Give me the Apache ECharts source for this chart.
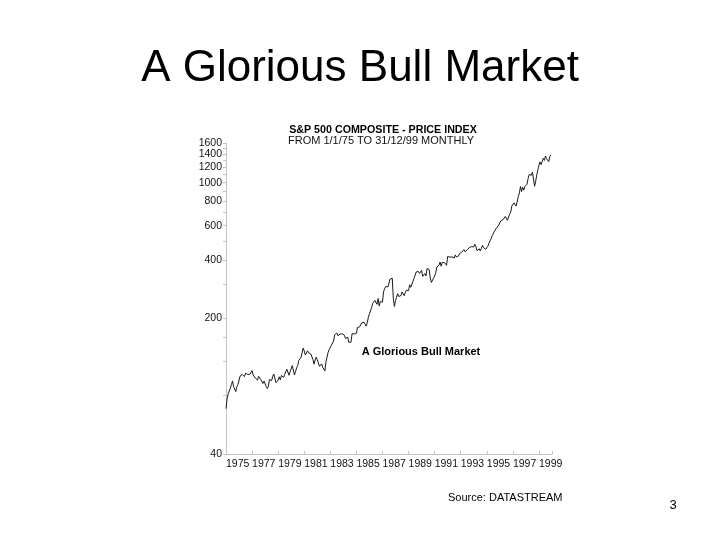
<!DOCTYPE html>
<html><head><meta charset="utf-8">
<script src="https://cdn.jsdelivr.net/npm/echarts@6/dist/echarts.min.js"></script>
<style>html,body{margin:0;padding:0;background:#fff}#c{width:720px;height:540px}</style>
</head><body><div id="c"></div><script>
const startYear = 1975;
// S&P 500 composite price index, monthly (value at start of each month)
const values1975_1979 = [
  68.56, 76.98, 81.59, 83.36, 87.30, 91.15, 95.19, 88.75, 86.88, 83.87, 89.04, 91.24,
  90.19, 100.86, 99.71, 102.77, 101.64, 100.18, 104.28, 103.44, 102.91, 105.24, 102.90, 102.10,
  107.46, 102.03, 99.82, 98.42, 98.44, 96.12, 100.48, 98.85, 96.77, 96.53, 92.34, 94.83,
  95.10, 89.25, 87.04, 89.21, 96.83, 97.24, 95.53, 100.68, 103.29, 102.54, 93.15, 94.70,
  96.11, 99.93, 96.28, 101.59, 101.76, 99.08, 102.91, 103.81, 109.32, 109.32, 101.82, 106.16
];
const values1980_1984 = [
  107.94, 114.16, 113.66, 102.09, 106.29, 111.24, 114.24, 121.67, 122.38, 125.46, 127.47, 140.52,
  135.76, 129.55, 131.27, 136.00, 132.81, 132.59, 131.21, 130.92, 122.79, 116.18, 121.89, 126.35,
  122.55, 120.40, 113.11, 111.96, 116.44, 111.88, 109.61, 107.09, 119.51, 120.42, 133.71, 138.54,
  140.64, 145.30, 148.06, 152.96, 164.42, 162.39, 168.11, 162.56, 164.40, 166.07, 163.55, 166.40,
  164.93, 163.41, 157.06, 159.18, 160.05, 150.55, 153.18, 150.66, 166.68, 166.10, 166.09, 163.58
];
const values1985_1989 = [
  167.24, 179.63, 181.18, 180.66, 179.83, 189.55, 191.85, 190.92, 188.63, 182.08, 189.82, 202.17,
  211.28, 211.78, 226.92, 238.90, 235.52, 247.35, 250.84, 236.12, 252.93, 231.32, 243.98, 249.22,
  242.17, 274.08, 284.20, 291.70, 288.36, 290.10, 304.00, 318.66, 324.80, 321.83, 251.79, 230.30,
  247.08, 257.07, 267.82, 258.89, 261.33, 262.16, 273.50, 272.02, 261.52, 271.91, 278.97, 273.70,
  277.72, 297.47, 288.86, 294.87, 309.64, 320.52, 317.98, 346.08, 351.45, 349.15, 340.36, 345.99
];
const values1990_1994 = [
  353.40, 329.08, 331.89, 339.94, 330.80, 361.23, 358.02, 356.15, 322.56, 306.05, 304.00, 322.22,
  330.22, 343.93, 367.07, 375.22, 375.34, 389.83, 371.16, 387.81, 395.43, 387.86, 392.46, 375.22,
  417.09, 408.79, 412.70, 403.69, 414.95, 415.35, 408.14, 424.21, 414.03, 417.80, 418.68, 431.35,
  435.71, 438.78, 443.38, 451.67, 440.19, 450.19, 450.53, 448.13, 463.56, 458.93, 467.83, 461.79,
  466.45, 481.61, 467.14, 445.77, 450.91, 456.50, 444.27, 458.26, 475.49, 462.69, 472.35, 453.69
];
const values1995_1999 = [
  459.27, 470.42, 487.39, 500.71, 514.71, 533.40, 544.75, 562.06, 561.88, 584.41, 581.50, 605.37,
  615.93, 636.02, 640.43, 645.50, 654.17, 669.12, 670.63, 639.95, 651.99, 687.31, 705.27, 757.02,
  740.74, 786.16, 790.82, 757.12, 801.34, 848.28, 885.14, 954.29, 899.47, 947.28, 914.62, 955.40,
  970.43, 980.28, 1049.34, 1101.75, 1111.75, 1090.82, 1133.84, 1120.67, 957.28, 1017.01, 1098.67, 1163.63,
  1229.23, 1279.64, 1238.33, 1286.37, 1335.18, 1301.84, 1372.71, 1328.72, 1320.41, 1282.71, 1362.93, 1388.91
];
const yLabelValues = [40, 200, 400, 600, 800, 1000, 1200, 1400, 1600];
const yTickValues = [40, 80, 120, 160, 200, 300, 400, 500, 600, 700, 800, 900, 1000, 1100, 1200, 1300, 1400, 1500, 1600];
const xLabelYears = [1975, 1977, 1979, 1981, 1983, 1985, 1987, 1989, 1991, 1993, 1995, 1997, 1999];
const xTickYears = [1975, 1977, 1979, 1981, 1983, 1985, 1987, 1989, 1991, 1993, 1995, 1997, 1999, 2000];

const monthly = [].concat(values1975_1979, values1980_1984, values1985_1989, values1990_1994, values1995_1999);
const seriesData = monthly.map((v, i) => [startYear + i / 12, v]);

const FONT = '"Liberation Sans", Arial, sans-serif';
const chart = echarts.init(document.getElementById('c'), null, {renderer: 'canvas'});
chart.setOption({
  animation: false,
  backgroundColor: '#fff',
  grid: {left: 226, right: 168, top: 143, bottom: 86},
  xAxis: {
    type: 'value', min: 1975, max: 2000,
    splitLine: {show: false},
    axisLine: {lineStyle: {color: '#c4c4c4', width: 1}},
    axisTick: {show: true, inside: true, length: 3, customValues: xTickYears, lineStyle: {color: '#c4c4c4'}},
    axisLabel: {customValues: xLabelYears, align: 'left', margin: 5, fontSize: 10.5, color: '#111',
      fontFamily: FONT, formatter: v => String(Math.round(v))}
  },
  yAxis: {
    type: 'log', logBase: 10, min: 40, max: 1600,
    splitLine: {show: false},
    axisLine: {show: true, lineStyle: {color: '#c4c4c4', width: 1}},
    axisTick: {show: true, length: 3, customValues: yTickValues, lineStyle: {color: '#c4c4c4'}},
    minorTick: {show: false},
    axisLabel: {customValues: yLabelValues, margin: 4, fontSize: 10.5, color: '#111',
      fontFamily: FONT, formatter: v => String(Math.round(v))}
  },
  series: [{
    type: 'line', data: seriesData, showSymbol: false, symbol: 'none',
    lineStyle: {color: '#1a1a1a', width: 1}
  }],
  graphic: [
    {type: 'text', x: 360, y: 69, style: {text: 'A Glorious Bull Market', font: '44px ' + FONT,
      fill: '#000', textAlign: 'center', textVerticalAlign: 'middle'}},
    {type: 'text', x: 383, y: 130, style: {text: 'S&P 500 COMPOSITE - PRICE INDEX', font: 'bold 10.7px ' + FONT,
      fill: '#000', textAlign: 'center', textVerticalAlign: 'middle'}},
    {type: 'text', x: 381, y: 141, style: {text: 'FROM 1/1/75 TO 31/12/99 MONTHLY', font: '11px ' + FONT,
      fill: '#111', textAlign: 'center', textVerticalAlign: 'middle'}},
    {type: 'text', x: 421, y: 352, style: {text: 'A Glorious Bull Market', font: 'bold 11px ' + FONT,
      fill: '#000', textAlign: 'center', textVerticalAlign: 'middle'}},
    {type: 'text', x: 448, y: 498, style: {text: 'Source: DATASTREAM', font: '11px ' + FONT,
      fill: '#000', textAlign: 'left', textVerticalAlign: 'middle'}},
    {type: 'text', x: 673, y: 505, style: {text: '3', font: '13px ' + FONT,
      fill: '#000', textAlign: 'center', textVerticalAlign: 'middle'}}
  ]
});
</script></body></html>
